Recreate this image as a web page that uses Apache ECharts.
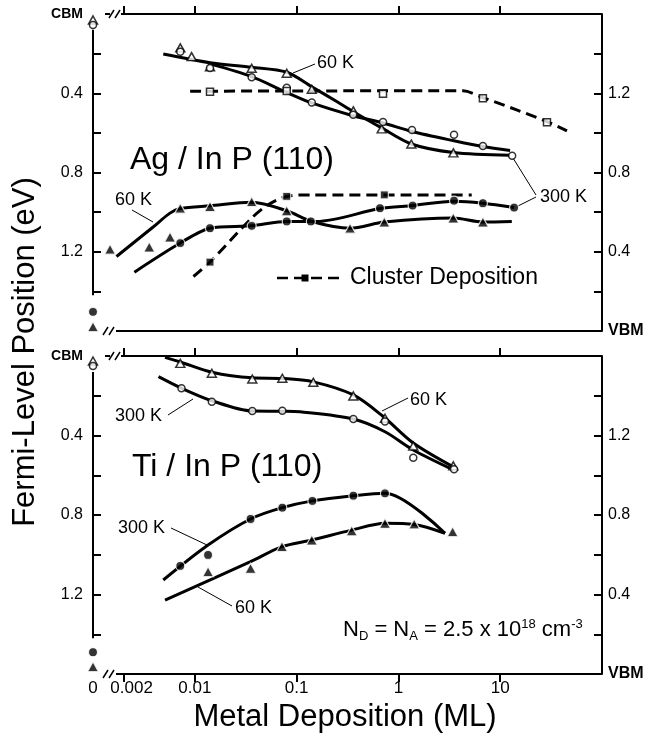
<!DOCTYPE html>
<html>
<head>
<meta charset="utf-8">
<script src="https://cdn.jsdelivr.net/npm/echarts@6/dist/echarts.min.js"></script>
<style>
html, body { margin: 0; background: #fff; }
#chart { width: 647px; height: 738px; }
</style>
</head>
<body>
<div id="chart"></div>
<script>
// axis values; zero coverage is plotted at 0.001 ML (left of the axis break)
var xTicks = [0.002, 0.01, 0.1, 1, 10];
var xLabels = [0.001, 0.002, 0.01, 0.1, 1, 10];
var yTicks = [0.2, 0.4, 0.6, 0.8, 1.0, 1.2, 1.4];
var yLabels = [0, 0.4, 0.8, 1.2];

// Ag / InP(110): measured points [coverage ML, eV below CBM]
var agOpenTri60 = [[0.001,0.03],[0.0072,0.171],[0.0093,0.215],[0.0141,0.266],[0.0362,0.274],[0.080,0.299],[0.141,0.380],[0.361,0.489],[0.685,0.580],[1.34,0.656],[3.47,0.701]];
var agOpenCir300 = [[0.001,0.055],[0.0072,0.19],[0.0141,0.273],[0.0362,0.319],[0.080,0.372],[0.141,0.447],[0.36,0.509],[0.706,0.545],[1.36,0.585],[3.52,0.610],[6.76,0.666],[13.1,0.716]];
var agOpenCluster = [[0.0141,0.392],[0.080,0.389],[0.706,0.403],[6.76,0.425],[28.8,0.546]];
var agFillTri60 = [[0.001,1.578],[0.00147,1.187],[0.00357,1.176],[0.00571,1.126],[0.0072,0.980],[0.0141,0.972],[0.0362,0.947],[0.080,0.993],[0.335,1.081],[0.727,1.050],[3.46,1.030],[6.76,1.050]];
var agFillCir300 = [[0.001,1.503],[0.0072,1.156],[0.0141,1.081],[0.0362,1.069],[0.080,1.047],[0.138,1.047],[0.659,0.980],[1.38,0.967],[3.52,0.942],[6.76,0.955],[13.7,0.977]];
var agFillCluster = [[0.0141,1.252],[0.080,0.921],[0.727,0.913]];

// Ag / InP(110): hand drawn curves
var agFit60Top = [[0.0049,0.202],[0.0141,0.246],[0.0362,0.269],[0.080,0.294],[0.141,0.367],[0.248,0.442],[0.361,0.493],[0.685,0.575],[1.34,0.656],[3.47,0.699],[12.5,0.713]];
var agFit300Top = [[0.0141,0.252],[0.0362,0.316],[0.074,0.388],[0.141,0.449],[0.35,0.512],[0.706,0.550],[1.36,0.593],[3.52,0.640],[6.76,0.669],[12.5,0.689]];
var agFitClusterTop = [[0.009,0.39],[0.3,0.388],[4.31,0.388],[6.76,0.422],[14.5,0.484],[28.8,0.543],[45.3,0.590]];
var agFit60Bot = [[0.0017,1.224],[0.0039,1.075],[0.0057,1.005],[0.0072,0.982],[0.0141,0.968],[0.0362,0.950],[0.080,0.993],[0.141,1.047],[0.335,1.081],[0.727,1.050],[3.46,1.030],[6.76,1.050],[13.0,1.047]];
var agFit300Bot = [[0.00255,1.303],[0.0072,1.156],[0.0141,1.081],[0.0362,1.069],[0.080,1.047],[0.157,1.047],[0.659,0.982],[1.38,0.967],[3.52,0.945],[6.76,0.955],[13.7,0.977]];
var agFitClusterBot = [[0.0097,1.325],[0.0141,1.252],[0.0362,1.030],[0.0524,0.963],[0.080,0.921],[0.141,0.913],[5.25,0.913]];

// Ti / InP(110): measured points
var tiOpenTri60 = [[0.001,0.025],[0.0072,0.037],[0.0147,0.087],[0.0367,0.116],[0.0724,0.112],[0.146,0.132],[0.361,0.201],[0.738,0.313],[1.40,0.453],[3.46,0.553]];
var tiOpenCir300 = [[0.001,0.05],[0.0074,0.162],[0.0147,0.230],[0.0367,0.277],[0.0724,0.275],[0.361,0.317],[0.738,0.330],[1.40,0.512],[3.52,0.570]];
var tiFillCir300 = [[0.001,1.490],[0.0072,1.056],[0.0135,1.001],[0.0353,0.820],[0.0724,0.763],[0.143,0.729],[0.361,0.703],[0.738,0.691]];
var tiFillTri60 = [[0.001,1.563],[0.0135,1.085],[0.0353,1.068],[0.0718,0.959],[0.141,0.926],[0.348,0.879],[0.738,0.842],[1.43,0.845],[3.41,0.884]];

// Ti / InP(110): hand drawn curves
var tiFit60Top = [[0.0051,0.007],[0.0072,0.03],[0.0147,0.082],[0.0367,0.110],[0.0724,0.113],[0.146,0.13],[0.361,0.196],[0.70,0.302],[1.40,0.438],[3.46,0.558]];
var tiFit300Top = [[0.0044,0.104],[0.0074,0.162],[0.0147,0.225],[0.0367,0.277],[0.0724,0.278],[0.108,0.281],[0.361,0.317],[0.738,0.381],[1.40,0.473],[3.46,0.573]];
var tiFit300Bot = [[0.0049,1.127],[0.0135,0.951],[0.0353,0.820],[0.0724,0.763],[0.143,0.729],[0.361,0.703],[0.738,0.690],[2.87,0.892]];
var tiFit60Bot = [[0.0051,1.228],[0.0353,1.035],[0.0718,0.959],[0.141,0.926],[0.348,0.876],[0.738,0.842],[1.43,0.848],[2.87,0.892]];

var FONT = 'Liberation Sans';
var panels = [{top: 14, height: 317}, {top: 356, height: 318}];
var LEFT = 93, RIGHT = 602;

var chart = echarts.init(document.getElementById('chart'));

function xAxisFor(grid, pos, labels) {
	return {
		type: 'log', logBase: 10, min: 0.001, max: 100, gridIndex: grid, position: pos,
		axisLine: { show: false },
		splitLine: { show: false },
		axisTick: { show: true, inside: true, length: 8, customValues: xTicks, lineStyle: { color: '#000', width: 2 } },
		axisLabel: {
			show: labels, customValues: xLabels, margin: 6, color: '#000', fontSize: 17, fontFamily: FONT,
			formatter: function(v) {
				if (v < 0.0015) return '0';
				var s = String(+v.toPrecision(3));
				return s === '0.002' ? '{p|0.002}' : s;
			},
			rich: { p: { padding: [0, 0, 0, 16], fontSize: 17, fontFamily: FONT, color: '#000' } }
		}
	};
}

function yAxisFor(grid, side) {
	var left = side === 'left';
	return {
		type: 'value', gridIndex: grid, position: side, min: 0, max: 1.6, inverse: left,
		axisLine: { show: !left, lineStyle: { color: '#000', width: 2 } },
		splitLine: { show: false },
		axisTick: { show: true, inside: true, length: 8, customValues: yTicks, lineStyle: { color: '#000', width: 2 } },
		axisLabel: {
			customValues: yLabels, margin: left ? 10 : 6, color: '#000', fontSize: 16, fontFamily: FONT,
			formatter: function(v) {
				if (v < 0.01) return left ? '{b|CBM}' : '{b|VBM}';
				return v.toFixed(1);
			},
			rich: { b: { fontSize: left ? 14 : 16, fontWeight: 'bold', fontFamily: FONT, color: '#000' } }
		}
	};
}

// xAxis: 0 = top panel bottom, 1 = lower panel bottom, 2 = lower panel top
// yAxis: 0/1 = top panel left/right, 2/3 = lower panel left/right
function axesOf(p) { return p === 0 ? { xAxisIndex: 0, yAxisIndex: 0 } : { xAxisIndex: 1, yAxisIndex: 2 }; }

function curve(data, p, dashed) {
	return Object.assign({
		type: 'line', data: data, smooth: 0.3, showSymbol: false, silent: true, z: 2,
		lineStyle: { color: '#000', width: 3, type: dashed ? [11, 6] : 'solid' }
	}, axesOf(p));
}

function points(data, p, shape, filled) {
	var size;
	if (shape === 'triangle') size = filled ? [11, 10] : [9, 8];
	else if (shape === 'rect') size = filled ? 8 : 7;
	else size = filled ? 9 : 7;
	return Object.assign({
		type: 'scatter', data: data, symbol: shape, symbolSize: size, silent: true, z: 3,
		itemStyle: filled ? { color: '#000', borderColor: '#fff', borderWidth: 1.2 }
		                  : { color: '#fff', borderColor: '#000', borderWidth: 1.5 }
	}, axesOf(p));
}

var series = [
	curve(agFit60Top, 0), curve(agFit300Top, 0), curve(agFitClusterTop, 0, true),
	curve(agFit60Bot, 0), curve(agFit300Bot, 0), curve(agFitClusterBot, 0, true),
	points(agOpenTri60, 0, 'triangle', false), points(agOpenCir300, 0, 'circle', false),
	points(agOpenCluster, 0, 'rect', false),
	points(agFillTri60, 0, 'triangle', true), points(agFillCir300, 0, 'circle', true),
	points(agFillCluster, 0, 'rect', true),
	curve(tiFit60Top, 1), curve(tiFit300Top, 1), curve(tiFit300Bot, 1), curve(tiFit60Bot, 1),
	points(tiOpenTri60, 1, 'triangle', false), points(tiOpenCir300, 1, 'circle', false),
	points(tiFillCir300, 1, 'circle', true), points(tiFillTri60, 1, 'triangle', true)
];

chart.setOption({
	animation: false,
	backgroundColor: '#fff',
	grid: panels.map(function(p) { return { left: LEFT, top: p.top, width: RIGHT - LEFT, height: p.height }; }),
	xAxis: [xAxisFor(0, 'bottom', false), xAxisFor(1, 'bottom', true), xAxisFor(1, 'top', false)],
	yAxis: [yAxisFor(0, 'left'), yAxisFor(0, 'right'), yAxisFor(1, 'left'), yAxisFor(1, 'right')],
	series: series
});

// frame pieces, axis breaks and annotations
var g = [];
function seg(x1, y1, x2, y2, w, dash) {
	g.push({ type: 'line', shape: { x1: x1, y1: y1, x2: x2, y2: y2 }, silent: true,
		style: { stroke: '#000', lineWidth: w || 2, lineDash: dash || null } });
}
function label(text, x, y, size, align, extra) {
	g.push(Object.assign({ type: 'text', x: x, y: y, silent: true,
		style: { text: text, fill: '#000', font: size + 'px "' + FONT + '"', textAlign: align || 'left', textVerticalAlign: 'middle' } }, extra || {}));
}

panels.forEach(function(p, i) {
	var T = p.top, B = p.top + p.height;
	var yAx = i === 0 ? 0 : 2;
	// top border with break
	seg(105, T, 110, T);
	seg(109, T + 4, 114, T - 4, 1.5); seg(115, T + 4, 120, T - 4, 1.5);
	seg(121, T, RIGHT, T);
	// bottom border with break
	seg(103, B + 4, 108, B - 4, 1.5); seg(109, B + 4, 114, B - 4, 1.5);
	seg(116, B, RIGHT, B);
	// partial left axis
	var a = chart.convertToPixel({ yAxisIndex: yAx }, 0.08);
	var b = chart.convertToPixel({ yAxisIndex: yAx }, 1.42);
	seg(LEFT, a, LEFT, b);
});

// Ag panel
label('Ag / In P (110)', 130, 160, 32);
label('60 K', 317, 63, 18);
seg(315, 64, 293, 73, 1);
label('300 K', 540, 197, 18);
seg(536, 195, 513, 158, 1); seg(536, 197, 518, 206, 1);
label('60 K', 115, 200, 18);
seg(132, 210, 153, 222, 1);
seg(277, 278, 341, 278, 2.5, [11, 6]);
g.push({ type: 'rect', shape: { x: 301.5, y: 274.5, width: 7, height: 7 }, style: { fill: '#000' }, silent: true });
label('Cluster Deposition', 350, 278, 23);

// Ti panel
label('Ti / In P (110)', 132, 467, 32);
label('300 K', 115, 416, 18);
seg(168, 415, 193, 399, 1);
label('60 K', 410, 400, 18);
seg(408, 398, 382, 411, 1);
label('300 K', 118, 528, 18);
seg(171, 528, 207, 545, 1);
label('60 K', 235, 608, 18);
seg(232, 606, 198, 587, 1);
g.push({ type: 'text', x: 343, y: 630, silent: true, style: {
	text: 'N{s|D} = N{s|A} = 2.5 x 10{u|18} cm{u|-3}', fill: '#000', font: '22px "' + FONT + '"',
	textVerticalAlign: 'middle',
	rich: { s: { fontSize: 13, fontFamily: FONT, padding: [12, 0, 0, 0] }, u: { fontSize: 13, fontFamily: FONT, padding: [0, 0, 12, 0] } }
} });

// axis titles
label('Metal Deposition (ML)', 345, 717, 31, 'center');
label('Fermi-Level Position (eV)', 25, 352, 31, 'center', { rotation: Math.PI / 2 });

chart.setOption({ graphic: g });
</script>
</body>
</html>
